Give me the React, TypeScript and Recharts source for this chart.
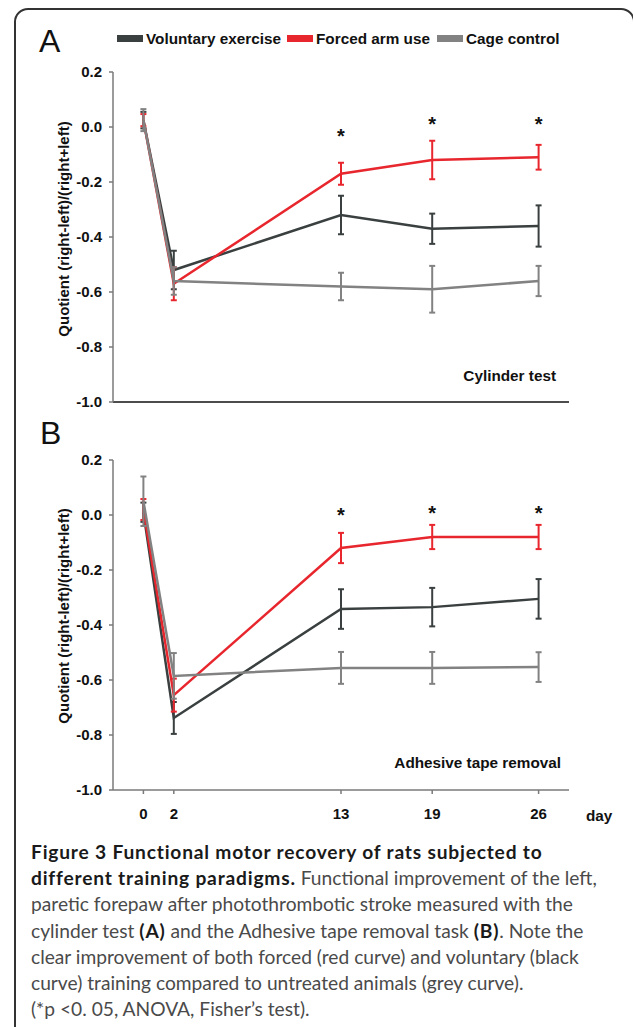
import React from "react";
import { LineChart, Line, XAxis, YAxis, ErrorBar } from "recharts";

const days = [0, 2, 13, 19, 26];
const seriesNames = ["Voluntary exercise", "Forced arm use", "Cage control"];
const seriesColors = ["#3a3f3f", "#e8262d", "#828282"];
const yTicks = [-1.0, -0.8, -0.6, -0.4, -0.2, 0.0, 0.2];

// A - cylinder test
const cylVoluntary = [0.025, -0.52, -0.32, -0.37, -0.36];
const cylVoluntaryErr = [0.03, 0.07, 0.07, 0.055, 0.075];
const cylForced = [0.025, -0.57, -0.17, -0.12, -0.11];
const cylForcedErr = [0.022, 0.06, 0.04, 0.07, 0.045];
const cylCage = [0.025, -0.56, -0.58, -0.59, -0.56];
const cylCageErr = [0.04, 0.05, 0.05, 0.085, 0.055];
const cylStars = [null, null, -0.018, 0.029, 0.029];

// B - adhesive tape removal
const tapeVoluntary = [0.01, -0.738, -0.342, -0.335, -0.305];
const tapeVoluntaryErr = [0.035, 0.058, 0.072, 0.07, 0.072];
const tapeForced = [0.02, -0.655, -0.12, -0.08, -0.08];
const tapeForcedErr = [0.038, 0.06, 0.055, 0.044, 0.044];
const tapeCage = [0.05, -0.585, -0.556, -0.556, -0.553];
const tapeCageErr = [0.09, 0.083, 0.058, 0.058, 0.054];
const tapeStars = [null, null, 0.015, 0.025, 0.025];

const FONT = "'Liberation Sans', Arial, sans-serif";

function buildRows(v, ve, f, fe, c, ce, s) {
  return days.map((d, i) => ({
    day: d,
    vol: v[i],
    volErr: ve[i],
    forced: f[i],
    forcedErr: fe[i],
    cage: c[i],
    cageErr: ce[i],
    star: s[i],
  }));
}

const cylRows = buildRows(cylVoluntary, cylVoluntaryErr, cylForced, cylForcedErr, cylCage, cylCageErr, cylStars);
const tapeRows = buildRows(tapeVoluntary, tapeVoluntaryErr, tapeForced, tapeForcedErr, tapeCage, tapeCageErr, tapeStars);

const renderStar = (props: any) => {
  const { cx, cy, value, index } = props;
  if (value == null || cy == null || isNaN(cy)) return <g key={"s" + index} />;
  return (
    <text key={"s" + index} x={cx} y={cy + 11.5} textAnchor="middle" fontSize={20} fontWeight="bold" fill="#111" fontFamily={FONT}>
      *
    </text>
  );
};

function Panel({ rows, top, height, marginTop, showDays }) {
  const keys = ["vol", "forced", "cage"];
  return (
    <div style={{ position: "absolute", left: 0, top }}>
      <LineChart width={633} height={height} data={rows} margin={{ top: marginTop, right: 64, bottom: 0, left: 0 }} style={{ fontFamily: FONT }}>
        <XAxis
          dataKey="day"
          type="number"
          domain={[-2, 28]}
          ticks={days}
          height={showDays ? 60 : 28}
          axisLine={{ stroke: showDays ? "#7a7a7a" : "#111", strokeWidth: 1.5 }}
          tickLine={showDays ? { stroke: "#7a7a7a", strokeWidth: 1.5 } : false}
          tickSize={4}
          tickMargin={14}
          tick={showDays ? { fontSize: 15, fontWeight: "bold", fill: "#111" } : false}
        />
        <YAxis
          type="number"
          domain={[-1.0, 0.2]}
          ticks={yTicks}
          width={113}
          axisLine={{ stroke: "#7a7a7a", strokeWidth: 1.5 }}
          tickLine={{ stroke: "#7a7a7a", strokeWidth: 1.5 }}
          tickSize={4}
          tickMargin={7}
          tickFormatter={(v) => v.toFixed(1)}
          tick={{ fontSize: 15, fontWeight: "bold", fill: "#111" }}
        />
        {keys.map((k, i) => (
          <Line key={k} dataKey={k} type="linear" stroke={seriesColors[i]} strokeWidth={2.5} dot={false} isAnimationActive={false}>
            <ErrorBar dataKey={k + "Err"} direction="y" width={3} stroke={seriesColors[i]} strokeWidth={2} />
          </Line>
        ))}
        <Line dataKey="star" stroke="none" dot={renderStar} activeDot={false} isAnimationActive={false} />
      </LineChart>
    </div>
  );
}

const bold = { color: "#1a1a1a", fontWeight: 700, letterSpacing: "0.8px" };

export default function App() {
  const legendX = [117, 287, 437];
  return (
    <div style={{ position: "absolute", left: 0, top: 0, width: 633, height: 1027, overflow: "hidden", background: "#fff" }}>
      <div
        style={{
          position: "absolute",
          left: 14,
          top: 8,
          width: 621,
          height: 1060,
          boxSizing: "border-box",
          border: "2px solid #333",
          borderRadius: 14,
        }}
      />
      <Panel rows={cylRows} top={0} height={430} marginTop={72} showDays={false} />
      <Panel rows={tapeRows} top={400} height={450} marginTop={60} showDays={true} />
      <svg width={633} height={1027} style={{ position: "absolute", left: 0, top: 0, pointerEvents: "none" }} fontFamily={FONT}>
        <text x={39} y={52} fontSize={32} fill="#111">A</text>
        <text x={40} y={444} fontSize={32} fill="#111">B</text>
        {seriesNames.map((n, i) => (
          <g key={n}>
            <rect x={legendX[i]} y={35} width={26} height={7} fill={seriesColors[i]} />
            <text x={legendX[i] + 29} y={38.5} dominantBaseline="central" fontSize={15.3} fontWeight="bold" fill="#111">
              {n}
            </text>
          </g>
        ))}
        <text x={556} y={375} textAnchor="end" dominantBaseline="central" fontSize={15.3} fontWeight="bold" fill="#111">
          Cylinder test
        </text>
        <text x={561} y={762} textAnchor="end" dominantBaseline="central" fontSize={15.3} fontWeight="bold" fill="#111">
          Adhesive tape removal
        </text>
        <text x={586} y={815} dominantBaseline="central" fontSize={15.3} fontWeight="bold" fill="#111">
          day
        </text>
        <text x={63} y={229} transform="rotate(-90 63 229)" textAnchor="middle" dominantBaseline="central" fontSize={15} fontWeight="bold" fill="#111">
          Quotient (right-left)/(right+left)
        </text>
        <text x={63} y={616} transform="rotate(-90 63 616)" textAnchor="middle" dominantBaseline="central" fontSize={15} fontWeight="bold" fill="#111">
          Quotient (right-left)/(right+left)
        </text>
      </svg>
      <div
        style={{
          position: "absolute",
          left: 31,
          top: 839,
          fontFamily: "Lato, 'Open Sans', sans-serif",
          fontSize: 19.2,
          lineHeight: "26.2px",
          color: "#4a4a4a",
          whiteSpace: "nowrap",
        }}
      >
        <div><span style={bold}>Figure 3 Functional motor recovery of rats subjected to</span></div>
        <div><span style={bold}>different training paradigms.</span> Functional improvement of the left,</div>
        <div>paretic forepaw after photothrombotic stroke measured with the</div>
        <div>cylinder test <span style={bold}>(A)</span> and the Adhesive tape removal task <span style={bold}>(B)</span>. Note the</div>
        <div>clear improvement of both forced (red curve) and voluntary (black</div>
        <div>curve) training compared to untreated animals (grey curve).</div>
        <div>(*p &lt;0. 05, ANOVA, Fisher’s test).</div>
      </div>
    </div>
  );
}
